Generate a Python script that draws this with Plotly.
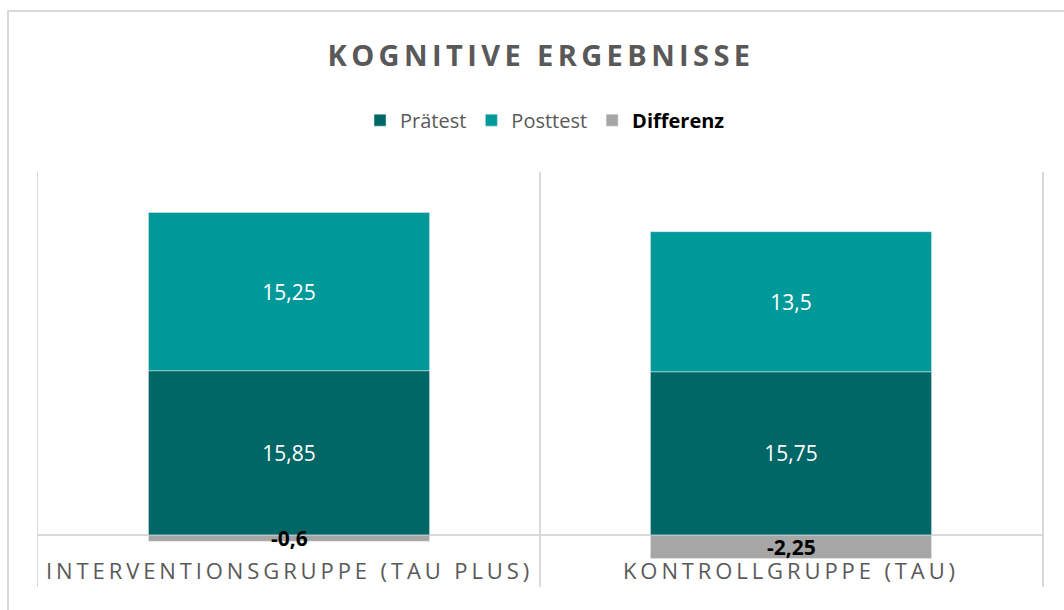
import plotly.graph_objects as go

categories = ["INTERVENTIONSGRUPPE (TAU PLUS)", "KONTROLLGRUPPE (TAU)"]
praetest = [15.85, 15.75]
posttest = [15.25, 13.5]
differenz = [-0.6, -2.25]
series_names = ["Prätest", "Posttest", "Differenz"]
title_text = "KOGNITIVE ERGEBNISSE"


def de(v):
    return f"{v:g}".replace(".", ",")


FONT = "Open Sans"
C_PRE = "#006666"
C_POST = "#009999"
C_DIFF = "#A6A6A6"
GRID = "#D9D9D9"
TXT = "#595959"

fig = go.Figure()
fig.add_trace(go.Bar(
    x=categories, y=praetest, name=series_names[0], marker_color=C_PRE,
    text=[de(v) for v in praetest], textposition="inside", insidetextanchor="middle",
    textangle=0, constraintext="none",
    textfont=dict(family=FONT, size=21, color="white"), width=0.56,
))
fig.add_trace(go.Bar(
    x=categories, y=posttest, name=series_names[1], marker_color=C_POST,
    text=[de(v) for v in posttest], textposition="inside", insidetextanchor="middle",
    textangle=0, constraintext="none",
    textfont=dict(family=FONT, size=21, color="white"), width=0.56,
))
fig.add_trace(go.Bar(
    x=categories, y=differenz,
    name="<span style='color:#000000'><b>" + series_names[2] + "</b></span>",
    marker_color=C_DIFF, width=0.56,
))

annotations = []
for c, d in zip(categories, differenz):
    annotations.append(dict(
        x=c, y=d / 2, xref="x", yref="y", text="<b>" + de(d) + "</b>", showarrow=False,
        font=dict(family=FONT, size=21, color="#000000"), xanchor="center", yanchor="middle",
    ))
for c in categories:
    annotations.append(dict(
        x=c, y=-3.35, xref="x", yref="y",
        text="<span style='letter-spacing:3.9px'>" + c + "</span>", showarrow=False,
        font=dict(family=FONT, size=22, color=TXT), xanchor="center", yanchor="middle",
    ))

fig.update_layout(
    width=1064, height=610,
    paper_bgcolor="white", plot_bgcolor="white",
    margin=dict(l=38, r=22, t=172, b=23, pad=0),
    barmode="relative", bargap=0.44,
    title=dict(
        text="<span style='letter-spacing:4.4px'><b>" + title_text + "</b></span>",
        x=541 / 1064, xanchor="center", y=1 - 56 / 610, yanchor="middle",
        font=dict(family=FONT, size=29, color=TXT),
    ),
    legend=dict(
        orientation="h", x=0.505, xanchor="center", y=1.125, yanchor="middle",
        font=dict(family=FONT, size=20, color=TXT), traceorder="normal",
        itemwidth=30, bgcolor="rgba(0,0,0,0)",
    ),
    showlegend=True,
    xaxis=dict(
        showticklabels=False, showgrid=True, gridcolor=GRID, gridwidth=1.5,
        tickson="boundaries", ticks="", showline=False, zeroline=False,
        range=[-0.5, 1.5], fixedrange=True,
    ),
    yaxis=dict(
        range=[-5, 35], showticklabels=False, showgrid=False, zeroline=True,
        zerolinecolor=GRID, zerolinewidth=1.5, ticks="",
        showline=True, linecolor=GRID, linewidth=1.5, mirror=True, fixedrange=True,
    ),
    annotations=annotations,
    shapes=[dict(
        type="rect", xref="paper", yref="paper",
        x0=(8 - 38) / 1004, x1=(1070 - 38) / 1004,
        y0=(587 - 615) / 415, y1=(587 - 11) / 415,
        line=dict(color="#D9D9D9", width=2), fillcolor="rgba(0,0,0,0)", layer="below",
    )],
    hovermode=False,
)

fig.write_html(
    "out.html",
    config={"displayModeBar": False, "staticPlot": True},
    post_script="document.body.style.margin='0';document.body.style.padding='0';",
)
